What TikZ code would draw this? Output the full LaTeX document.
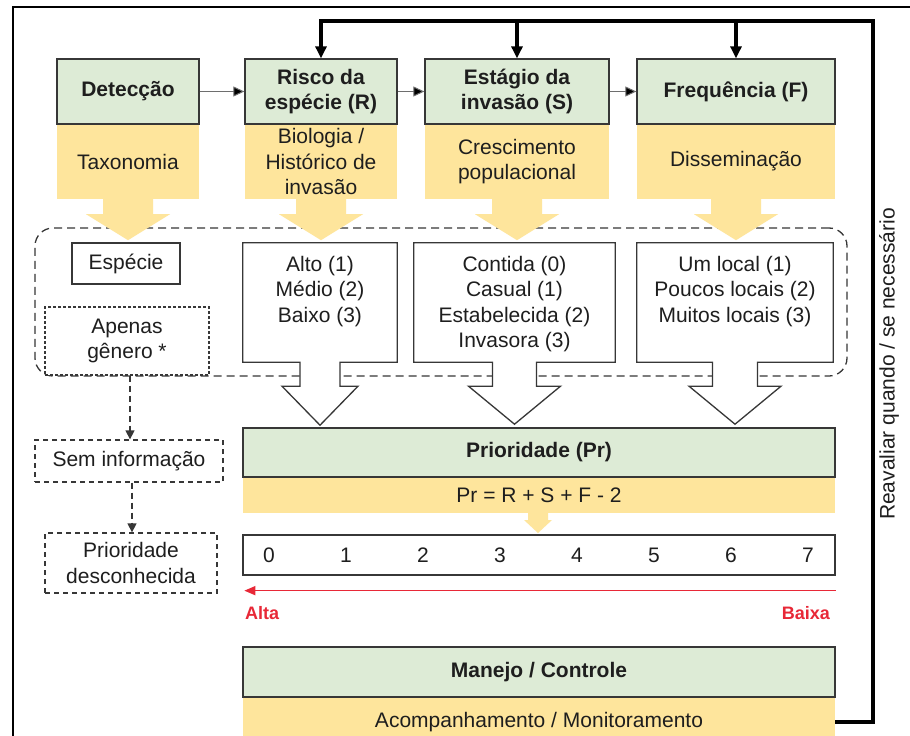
\documentclass[tikz,border=0pt]{standalone}
\usepackage{fontspec}
\setmainfont{Liberation Sans}
\usetikzlibrary{arrows.meta,calc}
\definecolor{grn}{RGB}{221,235,214}
\definecolor{ylw}{RGB}{254,229,156}
\definecolor{bd}{RGB}{55,55,55}
\definecolor{txt}{RGB}{30,30,30}
\definecolor{redc}{RGB}{232,40,55}
\definecolor{thin}{RGB}{110,110,110}
\begin{document}
\begin{tikzpicture}[x=1pt,y=-1pt,
  every node/.style={font=\fontsize{21}{25.5}\selectfont, text=txt, inner sep=0pt, align=center},
  hdr/.style={draw=bd, fill=grn, line width=1.3pt, font=\fontsize{21}{25.5}\selectfont\bfseries},
  ybox/.style={fill=ylw},
  sbox/.style={draw=bd, fill=white, line width=1.3pt},
  vb/.style={draw=bd, fill=white, line width=1.3pt, line join=miter},
  thinarr/.style={draw=thin, line width=1pt, -{Triangle[length=11pt,width=10pt,fill=black]}},
  loopl/.style={draw=black, line width=3.2pt, line join=miter},
  looparr/.style={loopl, -{Triangle[length=12pt,width=11pt]}},
  darr/.style={draw=bd, line width=1.3pt, dash pattern=on 6pt off 4pt, -{Triangle[length=9pt,width=9pt]}},
  redt/.style={text=redc, font=\fontsize{18}{22}\selectfont\bfseries},
  pics/yarr/.style={code={\fill[ylw] (-25,-1) -- (25,-1) -- (25,15) -- (42,15) -- (0,41) -- (-42,15) -- (-25,15) -- cycle;}},
  pics/syarr/.style={code={\fill[ylw] (-10,-1) -- (10,-1) -- (10,7) -- (14,7) -- (0,20) -- (-14,7) -- (-10,7) -- cycle;}}
]
\useasboundingbox (0,0) rectangle (910,736);
\fill[white] (0,0) rectangle (910,736);

% figure frame
\draw[line width=1.2pt, black] (910,7) -- (13,7) -- (13,736);

% yellow blocks
\node[ybox, minimum width=142pt, minimum height=75pt] (dety) at (128,161.5) {Taxonomia};
\node[ybox, minimum width=152pt, minimum height=75pt] (risy) at (321,161.5) {Biologia /\\Histórico de\\invasão};
\node[ybox, minimum width=184pt, minimum height=75pt] (esty) at (517,161.5) {Crescimento\\populacional};
\node[ybox, minimum width=198pt, minimum height=75pt] (frey) at (736,161.5) {Disseminação};

% header boxes
\node[hdr, minimum width=142pt, minimum height=65pt] (det) at (128,91.5) {Detecção};
\node[hdr, minimum width=152pt, minimum height=65pt] (ris) at (321,91.5) {Risco da\\espécie (R)};
\node[hdr, minimum width=184pt, minimum height=65pt] (est) at (517,91.5) {Estágio da\\invasão (S)};
\node[hdr, minimum width=198pt, minimum height=65pt] (fre) at (736,91.5) {Frequência (F)};

\draw[thinarr] (det) -- (ris);
\draw[thinarr] (ris) -- (est);
\draw[thinarr] (est) -- (fre);

% dashed group
\node[draw=bd, dash pattern=on 8pt off 5pt, line width=1.3pt, rounded corners=18pt,
      minimum width=812pt, minimum height=148pt] (grp) at (441,302) {};

% yellow block arrows
\pic at (dety.south) {yarr};
\pic at (risy.south) {yarr};
\pic at (esty.south) {yarr};
\pic at (frey.south) {yarr};

% left boxes
\node[sbox, minimum width=108pt, minimum height=41pt] (esp) at (126,263.5) {Espécie};
\node[sbox, dash pattern=on 3pt off 2pt, minimum width=164pt, minimum height=68pt] (apen) at (127,341) {Apenas\\gênero *};

% value boxes with arrows
\node[minimum width=154pt, minimum height=119pt] (rv) at (320,302.5) {};
\path[vb] (rv.north west) -- (rv.north east) -- (rv.south east) -- ($(rv.south)+(20,0)$) -- ++(0,24) -- ++(18,0)
  -- ($(rv.south)+(0,63)$) -- ($(rv.south)+(-38,24)$) -- ++(18,0) -- ++(0,-24) -- (rv.south west) -- cycle;
\node[anchor=north] (rvt) at ($(rv.north)+(0,13)$) {Alto (1)\\Médio (2)\\Baixo (3)};

\node[minimum width=201pt, minimum height=119pt] (ev) at (514.5,302.5) {};
\path[vb] (ev.north west) -- (ev.north east) -- (ev.south east) -- ($(ev.south)+(22,0)$) -- ++(0,24) -- ++(24,0)
  -- ($(ev.south)+(0,62)$) -- ($(ev.south)+(-46,24)$) -- ++(24,0) -- ++(0,-24) -- (ev.south west) -- cycle;
\node[anchor=north] (evt) at ($(ev.north)+(0,13)$) {Contida (0)\\Casual (1)\\Estabelecida (2)\\Invasora (3)};

\node[minimum width=196pt, minimum height=119pt] (fv) at (735,302.5) {};
\path[vb] (fv.north west) -- (fv.north east) -- (fv.south east) -- ($(fv.south)+(22.5,0)$) -- ++(0,24) -- ++(23.5,0)
  -- ($(fv.south)+(0,62)$) -- ($(fv.south)+(-46,24)$) -- ++(23.5,0) -- ++(0,-24) -- (fv.south west) -- cycle;
\node[anchor=north] (fvt) at ($(fv.north)+(0,13)$) {Um local (1)\\Poucos locais (2)\\Muitos locais (3)};

% priority
\node[ybox, minimum width=592pt, minimum height=36pt] (pry) at (539,495) {Pr = R + S + F - 2};
\node[hdr, minimum width=592pt, minimum height=49pt] (pr) at (539,452.5) {Prioridade (Pr)};
\pic at (538,513) {syarr};

\node[sbox, minimum width=592pt, minimum height=40pt] (nums) at (539,555) {};
\foreach \i in {0,...,7} { \node (n\i) at ({269+77*\i},555) {\i}; }

\draw[draw=redc, line width=1.5pt, -{Triangle[length=11pt,width=9pt]}]
  ($(nums.south east)+(0,15)$) -- ($(nums.south west)+(2,15)$);
\node[redt, anchor=west] (alta) at (245,613) {Alta};
\node[redt, anchor=east] (baixa) at (830,613) {Baixa};

% management
\node[ybox, minimum width=592pt, minimum height=50pt] (mon) at (539,722) {Acompanhamento / Monitoramento};
\node[hdr, minimum width=592pt, minimum height=50pt] (man) at (539,672) {Manejo / Controle};

% unknown branch
\node[sbox, dash pattern=on 5pt off 4pt, minimum width=188pt, minimum height=42pt] (sem) at (129,461) {Sem informação};
\node[sbox, dash pattern=on 5pt off 4pt, minimum width=172pt, minimum height=60pt] (pd) at (131,563) {Prioridade\\desconhecida};
\draw[darr] ($(apen.south)+(3,0)$) -- ($(apen.south |- sem.north)+(3,0)$);
\draw[darr] ($(sem.south)+(3,0)$) -- ($(sem.south |- pd.north)+(3,0)$);

% feedback loop
\coordinate (lr) at (873,21);
\draw[looparr] (mon.east) -| (lr) -| (ris.north);
\draw[looparr] (est.north |- lr) -- (est.north);
\draw[looparr] (fre.north |- lr) -- (fre.north);

\node[rotate=90] (reav) at (889,364) {Reavaliar quando / se necessário};
\end{tikzpicture}
\end{document}
